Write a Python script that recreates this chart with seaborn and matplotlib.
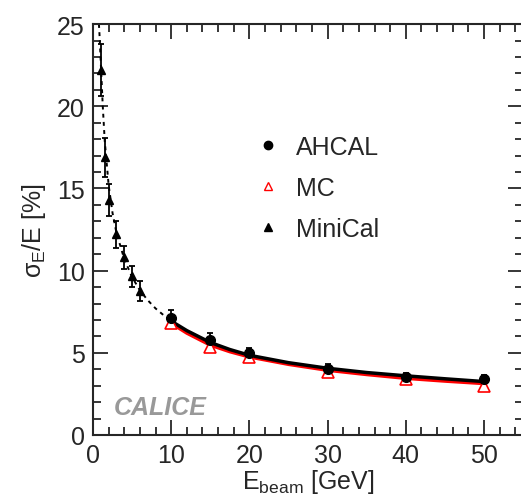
import numpy as np
import pandas as pd
import seaborn as sns
import matplotlib.pyplot as plt
from matplotlib.lines import Line2D
from matplotlib.ticker import MultipleLocator

# AHCAL data
ahcal_e = [10, 15, 20, 30, 40, 50]
ahcal_res = [7.1, 5.8, 4.97, 4.0, 3.55, 3.39]
ahcal_err = [0.5, 0.4, 0.3, 0.3, 0.25, 0.25]

# MC
mc_e = [10, 15, 20, 30, 40, 50]
mc_res = [6.8, 5.35, 4.77, 3.84, 3.39, 3.0]

# MiniCal
mini_e = [1, 1.5, 2, 3, 4, 5, 6]
mini_res = [22.2, 16.9, 14.3, 12.2, 10.8, 9.65, 8.75]
mini_err = [1.6, 1.2, 1.0, 0.8, 0.7, 0.65, 0.6]

# fit curves
fit_e = [10, 12, 15, 17.5, 20, 25, 30, 35, 40, 45, 50]
fit_ahcal = [6.93, 6.35, 5.63, 5.2, 4.85, 4.4, 4.06, 3.8, 3.6, 3.42, 3.25]
fit_mc = [6.8, 6.2, 5.47, 5.07, 4.75, 4.3, 3.94, 3.68, 3.45, 3.28, 3.13]
fit_mini_e = [0.7, 0.85, 1, 1.25, 1.5, 2, 2.5, 3, 4, 5, 6, 7, 8, 9, 10]
fit_mini = [25.5, 24.2, 22.6, 20.0, 17.9, 15.2, 13.5, 12.3, 10.7, 9.6, 8.8, 8.2, 7.7, 7.3, 6.95]

sns.set_style("ticks")
plt.rcParams['font.family'] = ['Liberation Sans', 'DejaVu Sans']
plt.rcParams['mathtext.fontset'] = 'custom'
plt.rcParams['mathtext.rm'] = 'Liberation Sans'
plt.rcParams['mathtext.it'] = 'Liberation Sans'

fig = plt.figure(figsize=(5.21, 5.02), dpi=100)
ax = fig.add_axes([0.1785, 0.1315, 0.8255, 0.8185])

ax.plot(fit_mini_e, fit_mini, color="black", lw=1.4, ls=(0, (2, 2.2)))
sns.lineplot(x=fit_e, y=fit_mc, color="red", lw=2.5, ax=ax)
sns.lineplot(x=fit_e, y=fit_ahcal, color="black", lw=2.5, ax=ax)

ax.errorbar(mini_e, mini_res, yerr=mini_err, fmt="^", color="black", ms=6,
            capsize=2.5, elinewidth=1.3, capthick=1.3)
ax.errorbar(ahcal_e, ahcal_res, yerr=ahcal_err, fmt="o", color="black", ms=7,
            capsize=2.5, elinewidth=1.3, capthick=1.3)
ax.plot(mc_e, mc_res, "^", mfc="white", mec="red", ms=8, mew=1.2)

ax.set_xlim(0, 55)
ax.set_ylim(0, 25)
ax.xaxis.set_major_locator(MultipleLocator(10))
ax.xaxis.set_minor_locator(MultipleLocator(2))
ax.yaxis.set_major_locator(MultipleLocator(5))
ax.yaxis.set_minor_locator(MultipleLocator(1))
ax.tick_params(which="both", direction="in", top=True, right=True, labelsize=18, width=1.3, pad=6)
ax.tick_params(which="major", length=11)
ax.tick_params(which="minor", length=6)
for s in ax.spines.values():
    s.set_linewidth(1.5)

ax.set_xlabel(r"E$_{\rm beam}$ [GeV]", fontsize=18, labelpad=0)
ax.set_ylabel(r"$\sigma_{\rm E}$/E [%]", fontsize=18, labelpad=6)

ax.text(2.6, 1.3, "CALICE", color="#999999", fontsize=18, fontweight="bold", style="italic")

handles = [
    Line2D([], [], ls="none", marker="o", color="black", ms=6),
    Line2D([], [], ls="none", marker="^", mfc="white", mec="red", ms=6),
    Line2D([], [], ls="none", marker="^", color="black", ms=6),
]
ax.legend(handles, ["AHCAL", "MC", "MiniCal"], frameon=False, fontsize=18,
          loc="upper left", bbox_to_anchor=(0.326, 0.786), labelspacing=0.68,
          handlelength=1, handletextpad=0.61, borderpad=0.4)

fig.savefig("out.png", dpi=100)
